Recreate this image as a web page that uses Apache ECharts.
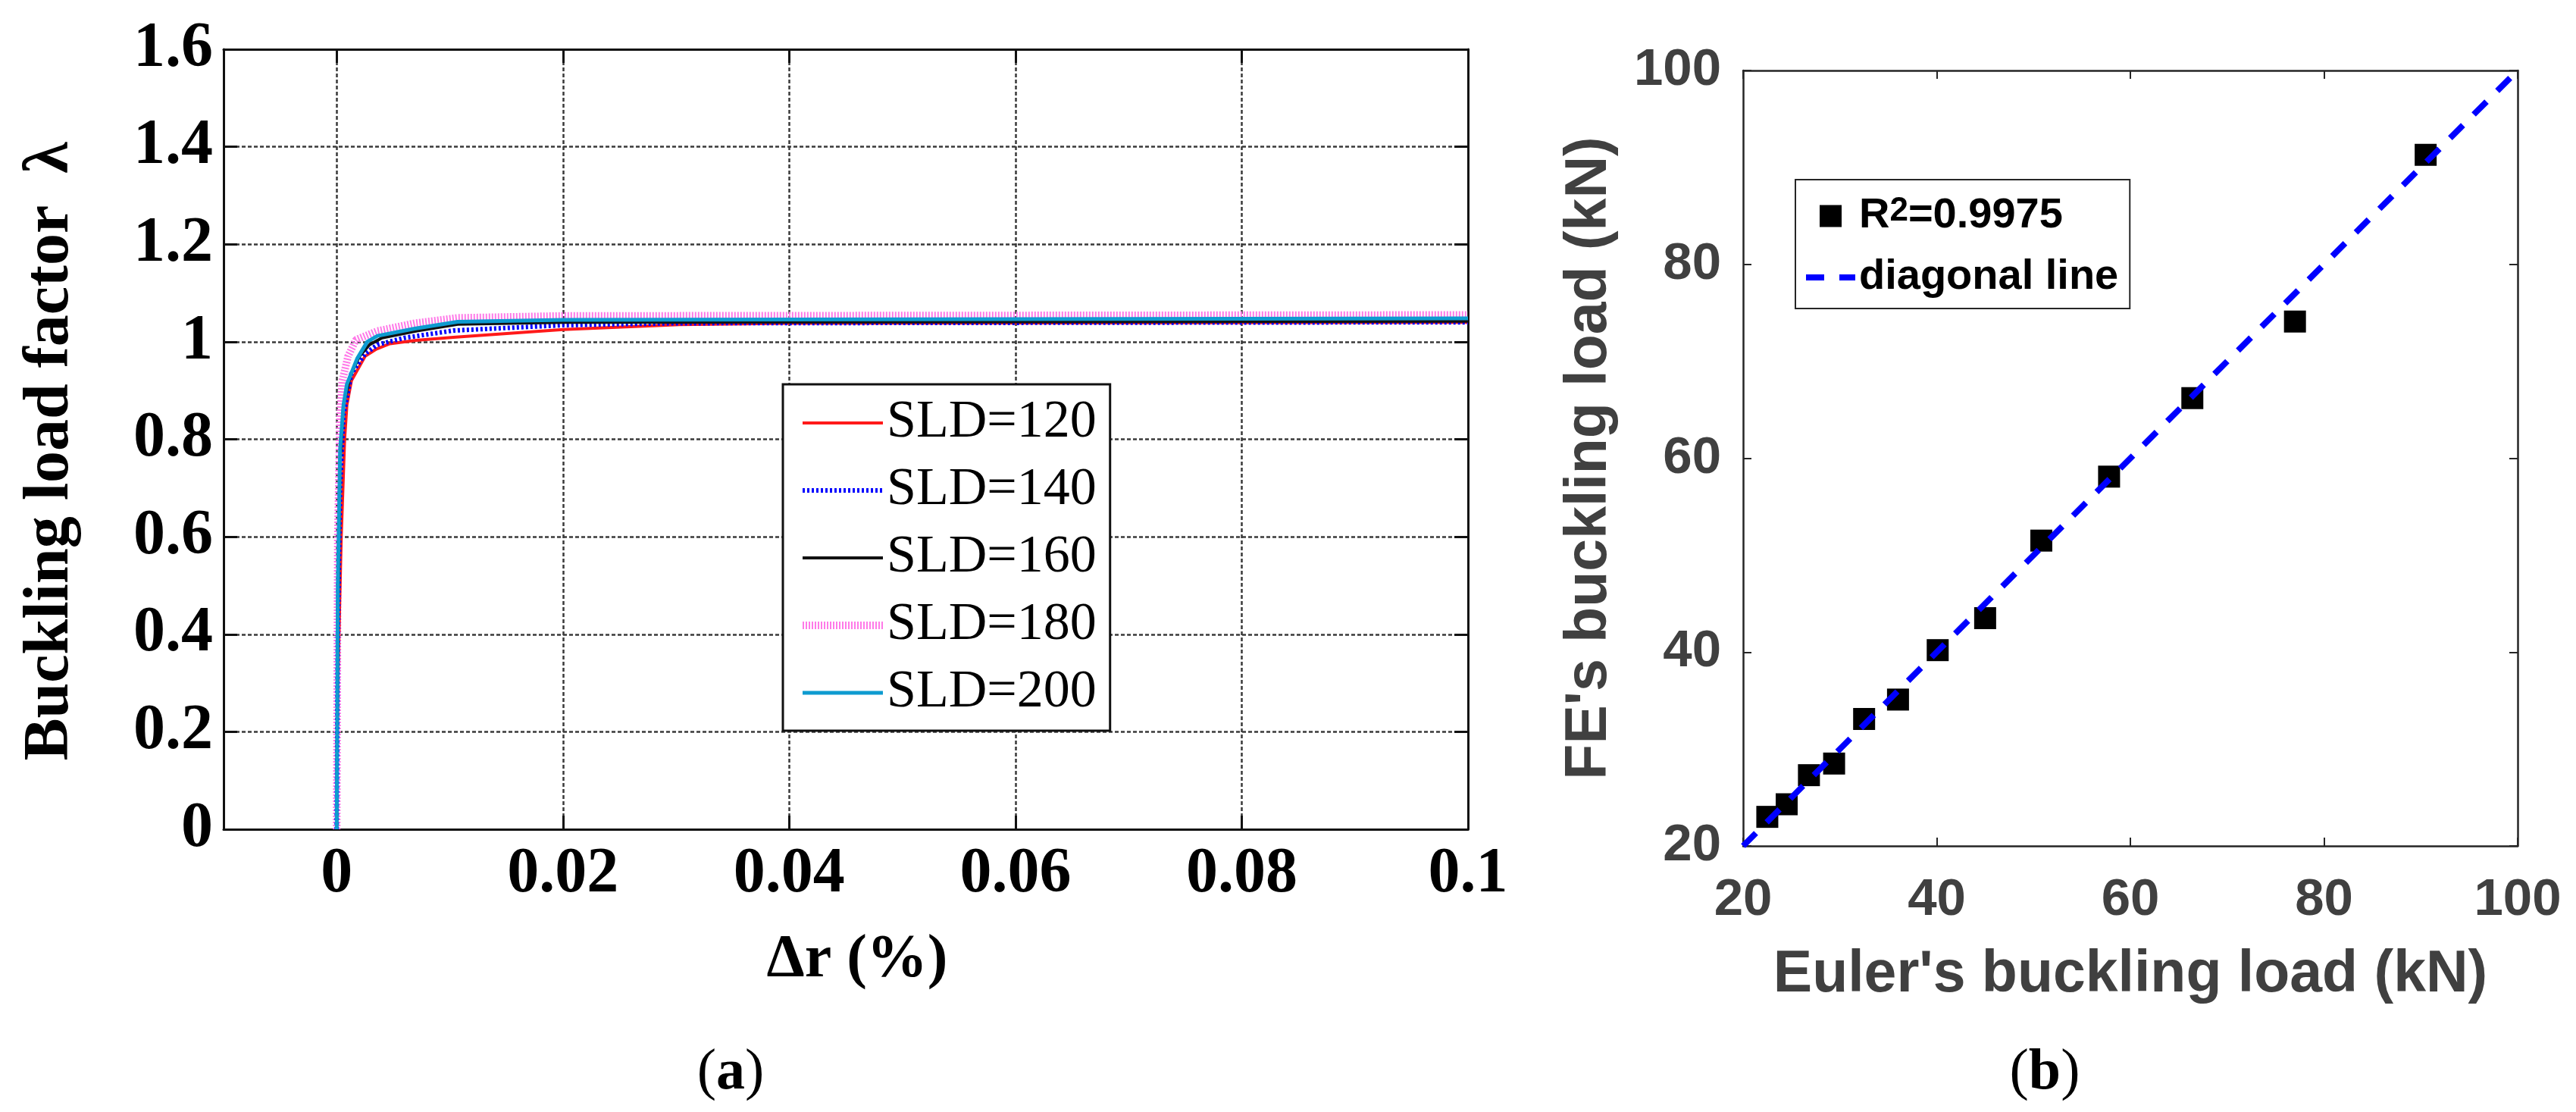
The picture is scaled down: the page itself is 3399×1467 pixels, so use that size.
<!DOCTYPE html>
<html>
<head>
<meta charset="utf-8">
<script src="https://cdn.jsdelivr.net/npm/echarts@6/dist/echarts.min.js"></script>
<style>
  html, body { margin: 0; padding: 0; background: #fff; }
  #chart { width: 3399px; height: 1467px; }
</style>
</head>
<body>
<div id="chart"></div>
<script>
// (a) buckling load factor vs radius change, one curve per SLD
const dr120 = [0, 0.0001, 0.0004, 0.0007, 0.0009, 0.0013, 0.0025, 0.0035, 0.0047, 0.0070, 0.0103, 0.0200, 0.0303, 0.0400, 0.1000];
const lf120 = [0, 0.30, 0.60, 0.80, 0.87, 0.92, 0.970, 0.985, 0.996, 1.003, 1.009, 1.025, 1.035, 1.038, 1.040];
const dr140 = [0, 0.0001, 0.0003, 0.0006, 0.0013, 0.0025, 0.0036, 0.0060, 0.0103, 0.0200, 0.0300, 0.1000];
const lf140 = [0, 0.40, 0.70, 0.85, 0.935, 0.975, 0.994, 1.008, 1.023, 1.034, 1.038, 1.040];
const dr160 = [0, 0.0001, 0.0003, 0.0006, 0.0012, 0.0020, 0.0029, 0.0040, 0.0070, 0.0107, 0.0200, 0.1000];
const lf160 = [0, 0.45, 0.75, 0.87, 0.93, 0.97, 0.994, 1.008, 1.022, 1.036, 1.040, 1.042];
const dr180 = [0, 0.0001, 0.0003, 0.0005, 0.0010, 0.0017, 0.0036, 0.0069, 0.0107, 0.0200, 0.1000];
const lf180 = [0, 0.60, 0.85, 0.92, 0.97, 1.004, 1.022, 1.038, 1.049, 1.053, 1.055];
const dr200 = [0, 0.0001, 0.0003, 0.0006, 0.0009, 0.0018, 0.0027, 0.0036, 0.0069, 0.0107, 0.0200, 0.1000];
const lf200 = [0, 0.50, 0.78, 0.87, 0.913, 0.965, 1.000, 1.012, 1.027, 1.041, 1.045, 1.048];
const drTicks = [0, 0.02, 0.04, 0.06, 0.08, 0.1];

// (b) FE vs Euler buckling load (kN)
const eulerLoad = [22.5, 24.5, 26.8, 29.4, 32.5, 36.0, 40.1, 45.0, 50.8, 57.8, 66.4, 77.0, 90.5];
const feLoad    = [23.0, 24.3, 27.3, 28.5, 33.1, 35.1, 40.2, 43.5, 51.5, 58.1, 66.2, 74.1, 91.3];
const diagonal  = [20, 100];

const serif = 'Liberation Serif';
const sans = 'Liberation Sans';
const grayText = '#404040';

function zip(xs, ys) {
    return xs.map((x, i) => [x, ys[i]]);
}

function sldSeries(name, xs, ys, color, width, type) {
    return {
        name: name,
        type: 'line',
        xAxisIndex: 0,
        yAxisIndex: 0,
        data: zip(xs, ys),
        symbol: 'none',
        showSymbol: false,
        smooth: false,
        clip: true,
        lineStyle: { color: color, width: width, type: type },
        itemStyle: { color: color }
    };
}

// left panel axes (bottom/left with labels, top/right only carry the box and ticks)
const leftTick = { show: true, inside: true, length: 18, lineStyle: { color: '#111', width: 3 } };
const leftLine = { show: true, onZero: false, lineStyle: { color: '#111', width: 3 } };
const leftSplit = { show: true, lineStyle: { color: '#3a3a3a', width: 2.5, type: [5, 3] } };
const leftLabel = { fontFamily: serif, fontWeight: 'bold', fontSize: 84, color: '#000', lineHeight: 84 };

const rightTick = { show: true, inside: true, length: 11, lineStyle: { color: '#262626', width: 2 } };
const rightLine = { show: true, onZero: false, lineStyle: { color: '#262626', width: 2.5 } };
const rightLabel = { fontFamily: sans, fontWeight: 'bold', fontSize: 69, color: grayText, lineHeight: 69 };
const rightName = { fontFamily: sans, fontWeight: 'bold', fontSize: 77, color: grayText, lineHeight: 77 };

const captionRich = {
    p: { fontFamily: serif, fontSize: 76, color: '#000' },
    b: { fontFamily: serif, fontSize: 76, fontWeight: 'bold', color: '#000' }
};

const chart = echarts.init(document.getElementById('chart'));

chart.setOption({
    animation: false,
    backgroundColor: '#fff',
    grid: [
        { left: 295, top: 65, width: 1642, height: 1029, containLabel: false },
        { left: 2300, top: 93, width: 1022, height: 1023, containLabel: false }
    ],
    xAxis: [
        {
            gridIndex: 0, type: 'value', position: 'bottom', min: -0.01, max: 0.1,
            axisLine: leftLine,
            axisTick: Object.assign({ customValues: drTicks }, leftTick),
            axisLabel: Object.assign({ customValues: drTicks, margin: 18 }, leftLabel),
            splitLine: leftSplit,
            name: 'Δr (%)', nameLocation: 'middle', nameGap: 133,
            nameTextStyle: { fontFamily: serif, fontWeight: 'bold', fontSize: 80, color: '#000', lineHeight: 80, padding: [0, 0, 0, 30] }
        },
        {
            gridIndex: 0, type: 'value', position: 'top', min: -0.01, max: 0.1,
            axisLine: leftLine,
            axisTick: Object.assign({ customValues: drTicks }, leftTick),
            axisLabel: { show: false },
            splitLine: { show: false }
        },
        {
            gridIndex: 1, type: 'value', position: 'bottom', min: 20, max: 100, interval: 20,
            axisLine: rightLine, axisTick: rightTick,
            axisLabel: Object.assign({ margin: 37 }, rightLabel),
            splitLine: { show: false },
            name: "Euler's buckling load (kN)", nameLocation: 'middle', nameGap: 132,
            nameTextStyle: rightName
        },
        {
            gridIndex: 1, type: 'value', position: 'top', min: 20, max: 100, interval: 20,
            axisLine: rightLine, axisTick: rightTick,
            axisLabel: { show: false }, splitLine: { show: false }
        }
    ],
    yAxis: [
        {
            gridIndex: 0, type: 'value', position: 'left', min: 0, max: 1.6, interval: 0.2,
            axisLine: leftLine, axisTick: leftTick,
            axisLabel: Object.assign({ margin: 14 }, leftLabel),
            splitLine: leftSplit,
            name: 'Buckling load factor  λ', nameLocation: 'middle', nameGap: 186,
            nameTextStyle: { fontFamily: serif, fontWeight: 'bold', fontSize: 84, color: '#000', lineHeight: 84, padding: [0, 32, 0, 0] }
        },
        {
            gridIndex: 0, type: 'value', position: 'right', min: 0, max: 1.6, interval: 0.2,
            axisLine: leftLine, axisTick: leftTick,
            axisLabel: { show: false }, splitLine: { show: false }
        },
        {
            gridIndex: 1, type: 'value', position: 'left', min: 20, max: 100, interval: 20,
            axisLine: rightLine, axisTick: rightTick,
            axisLabel: Object.assign({ margin: 29 }, rightLabel),
            splitLine: { show: false },
            name: "FE's buckling load (kN)", nameLocation: 'middle', nameGap: 164,
            nameTextStyle: rightName
        },
        {
            gridIndex: 1, type: 'value', position: 'right', min: 20, max: 100, interval: 20,
            axisLine: rightLine, axisTick: rightTick,
            axisLabel: { show: false }, splitLine: { show: false }
        }
    ],
    legend: [
        {
            orient: 'vertical', left: 1033, top: 507,
            padding: [16, 18, 15, 21],
            itemGap: 19, itemWidth: 106, itemHeight: 14, itemTextGap: 12,
            backgroundColor: '#fff', borderColor: '#111', borderWidth: 3, borderRadius: 0,
            textStyle: { fontFamily: serif, fontSize: 70, lineHeight: 70, color: '#000' },
            itemStyle: { opacity: 0 },
            lineStyle: { width: 'inherit' },
            selectedMode: false,
            data: ['SLD=120', 'SLD=140', 'SLD=160', 'SLD=180', 'SLD=200']
        },
        {
            orient: 'vertical', left: 2369, top: 237,
            padding: [20, 15, 13, 10],
            itemGap: 25, itemWidth: 65, itemHeight: 29, itemTextGap: 26,
            backgroundColor: '#fff', borderColor: '#262626', borderWidth: 2, borderRadius: 0,
            textStyle: {
                fontFamily: sans, fontWeight: 'bold', fontSize: 56, lineHeight: 56, color: '#000',
                rich: {
                    base: { fontFamily: sans, fontWeight: 'bold', fontSize: 56, lineHeight: 56, color: '#000' },
                    sup: { fontFamily: sans, fontWeight: 'bold', fontSize: 44, lineHeight: 10, color: '#000', verticalAlign: 'top' }
                }
            },
            lineStyle: { width: 'inherit' },
            selectedMode: false,
            formatter: name => name === 'R2=0.9975' ? '{base|R}{sup|2}{base|=0.9975}' : name,
            data: [
                { name: 'R2=0.9975', icon: 'path://M0 0H10V10H0Z', itemStyle: { opacity: 1 } },
                { name: 'diagonal line', itemStyle: { opacity: 0 } }
            ]
        }
    ],
    graphic: [
        {
            type: 'text', x: 964, y: 1416,
            style: { text: '{p|(}{b|a}{p|)}', align: 'center', verticalAlign: 'middle', rich: captionRich }
        },
        {
            type: 'text', x: 2698, y: 1416,
            style: { text: '{p|(}{b|b}{p|)}', align: 'center', verticalAlign: 'middle', rich: captionRich }
        }
    ],
    series: [
        sldSeries('SLD=180', dr180, lf180, '#ff7ae8', 10, [2, 2]),
        sldSeries('SLD=120', dr120, lf120, '#ff1a1a', 4, 'solid'),
        sldSeries('SLD=140', dr140, lf140, '#0000ff', 6, [3, 3]),
        sldSeries('SLD=160', dr160, lf160, '#111111', 4, 'solid'),
        sldSeries('SLD=200', dr200, lf200, '#0e9bd0', 5, 'solid'),
        {
            name: 'R2=0.9975',
            type: 'scatter',
            xAxisIndex: 2,
            yAxisIndex: 2,
            data: zip(eulerLoad, feLoad),
            symbol: 'rect',
            symbolSize: 29,
            itemStyle: { color: '#000', opacity: 1 },
            z: 2
        },
        {
            name: 'diagonal line',
            type: 'line',
            xAxisIndex: 2,
            yAxisIndex: 2,
            data: zip(diagonal, diagonal),
            symbol: 'none',
            showSymbol: false,
            lineStyle: { color: '#0000ff', width: 8, type: [24, 20] },
            itemStyle: { color: '#0000ff' },
            z: 3
        }
    ]
});
</script>
</body>
</html>
